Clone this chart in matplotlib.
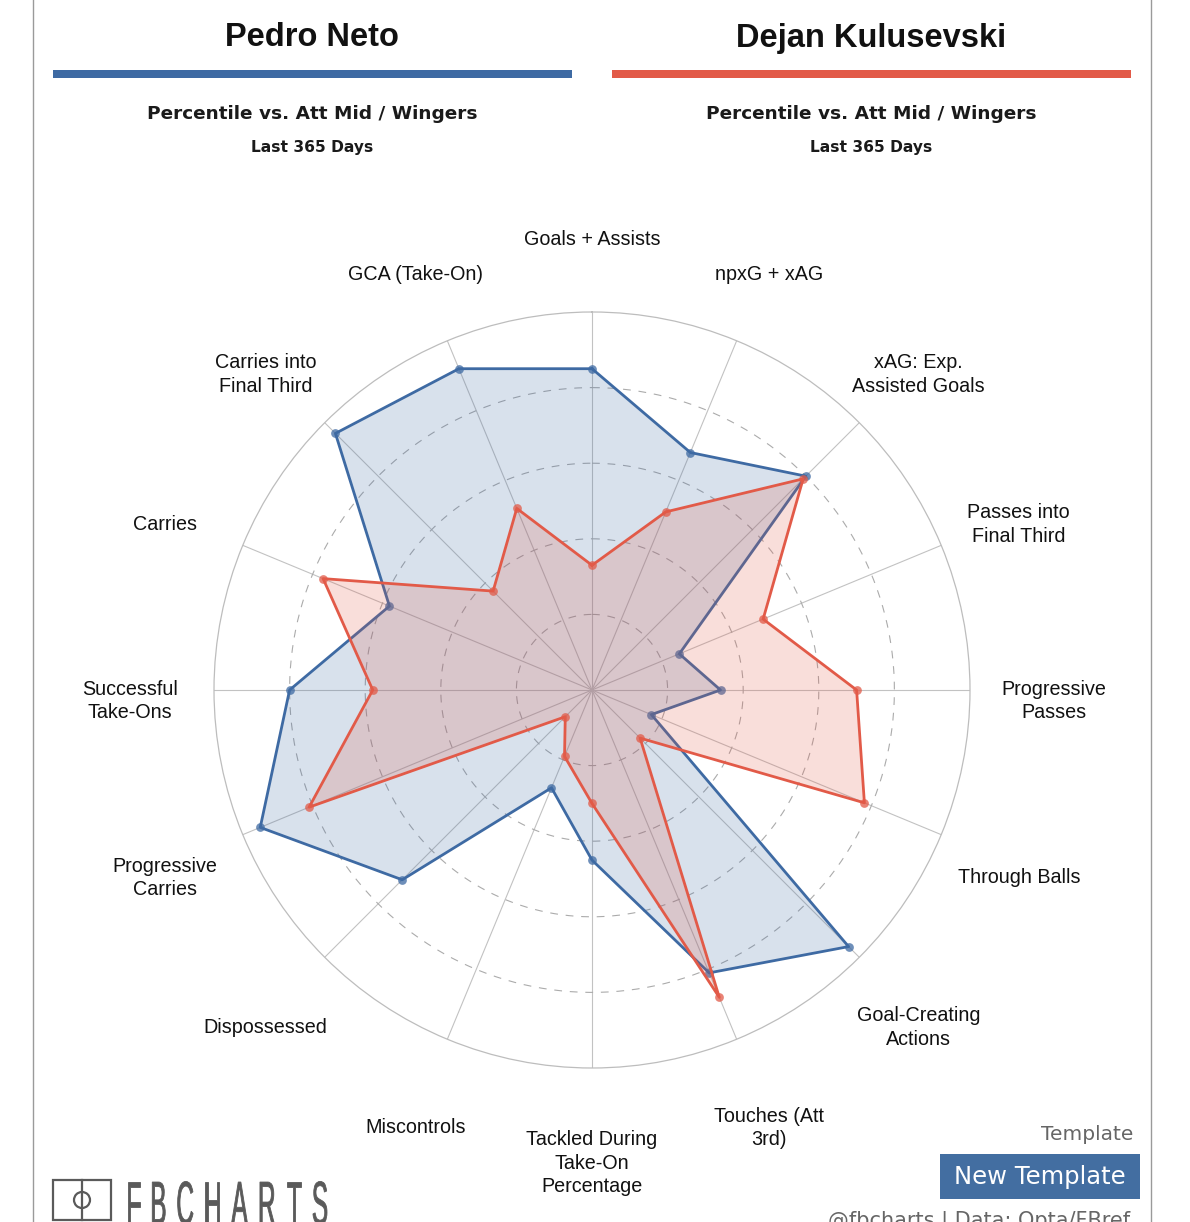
import numpy as np
import matplotlib
matplotlib.use('Agg')
import matplotlib.pyplot as plt
from matplotlib.patches import Rectangle, Circle, PathPatch
from matplotlib.textpath import TextPath
from matplotlib.font_manager import FontProperties
from matplotlib.transforms import Affine2D

# clockwise from the top
labels = ["Goals + Assists", "npxG + xAG", "xAG: Exp.\nAssisted Goals",
          "Passes into\nFinal Third", "Progressive\nPasses", "Through Balls",
          "Goal-Creating\nActions", "Touches (Att\n3rd)",
          "Tackled During\nTake-On\nPercentage", "Miscontrols", "Dispossessed",
          "Progressive\nCarries", "Successful\nTake-Ons", "Carries",
          "Carries into\nFinal Third", "GCA (Take-On)"]
neto = [85, 68, 80, 25, 34, 17, 96, 81, 45, 28, 71, 95, 80, 58, 96, 92]
kulu = [33, 51, 79, 49, 70, 78, 18, 88, 30, 19, 10, 81, 58, 77, 37, 52]
players = ["Pedro Neto", "Dejan Kulusevski"]
subtitle = "Percentile vs. Att Mid / Wingers"
period = "Last 365 Days"

BLUE = '#3e6aa3'
RED = '#e25a48'
W, H = 1190, 1222

fig = plt.figure(figsize=(W / 100, H / 100), dpi=100)
bg = fig.add_axes([0, 0, 1, 1])
bg.set_xlim(0, W)
bg.set_ylim(H, 0)
bg.axis('off')

# page borders
bg.plot([33, 33], [0, H], color='#9a9a9a', lw=1)
bg.plot([1151, 1151], [0, H], color='#9a9a9a', lw=1)

# header for each player
for name, col, xc in zip(players, [BLUE, RED], [312, 871]):
    bg.text(xc, 38, name, ha='center', va='center', fontsize=23.5, fontweight='bold',
            family='Liberation Sans', color='#111111')
    bg.add_patch(Rectangle((xc - 259, 70), 519, 8, color=col, lw=0))
    bg.text(xc, 114, subtitle, ha='center', va='center', fontsize=13.3, fontweight='bold',
            family='DejaVu Sans', color='#1a1a1a')
    bg.text(xc, 147.5, period, ha='center', va='center', fontsize=11.2, fontweight='bold',
            family='DejaVu Sans', color='#1a1a1a')

# radar
cx, cy, R = 592, 690, 378
ax = fig.add_axes([(cx - R) / W, 1 - (cy + R) / H, 2 * R / W, 2 * R / H], projection='polar')
ax.set_facecolor('none')
ax.set_theta_zero_location('N')
ax.set_theta_direction(-1)
ax.set_ylim(0, 100)
ax.set_xticks([])
ax.set_yticks([])
ax.spines['polar'].set_color('#bdbdbd')
ax.spines['polar'].set_linewidth(0.9)

n = len(labels)
theta = np.arange(n) * 2 * np.pi / n
for t in theta:
    ax.plot([t, t], [0, 100], color='#c2c2c2', lw=0.8, zorder=1)
ring = np.linspace(0, 2 * np.pi, 400)
for r in [20, 40, 60, 80]:
    ax.plot(ring, np.full_like(ring, r), color='#ababab', lw=0.8, ls=(0, (7, 7)), zorder=1)

for vals, col in [(neto, BLUE), (kulu, RED)]:
    tt = np.append(theta, theta[0])
    vv = np.append(vals, vals[0])
    ax.fill(tt, vv, color=col, alpha=0.2, lw=0, zorder=2)
    ax.plot(tt, vv, color=col, lw=2.0, zorder=2)
    ax.plot(theta, vals, 'o', color=col, ms=6.3, alpha=0.75, mec='none', zorder=2)

for t, lab in zip(theta, labels):
    ax.annotate(lab, xy=(t, 122.2), xytext=(0, -8), textcoords='offset points',
                ha='center', va='center', fontsize=14.2, family='Liberation Sans',
                color='#111111', linespacing=1.3, annotation_clip=False)

# footer
bg.text(1133, 1134, "Template", ha='right', va='center', fontsize=14.5,
        family='DejaVu Sans', color='#666666')
bg.add_patch(Rectangle((940, 1154), 200, 45, color='#436ea1', lw=0))
bg.text(1040, 1177, "New Template", ha='center', va='center', fontsize=17.5,
        family='DejaVu Sans', color='white')
bg.text(979, 1211, "@fbcharts | Data: Opta/FBref", ha='center', va='top', fontsize=15,
        family='DejaVu Sans', color='#666666')

# logo
bg.add_patch(Rectangle((53, 1180), 58, 40, fill=False, ec='#5a5a5a', lw=1.6))
bg.plot([82, 82], [1180, 1220], color='#5a5a5a', lw=1.6)
bg.add_patch(Circle((82, 1200), 8, fill=False, ec='#5a5a5a', lw=1.6))
fp = FontProperties(family='Liberation Sans')
sx = 0.4
paths = [TextPath((0, 0), ch, size=61, prop=fp) for ch in "FBCHARTS"]
widths = [p.get_extents().width * sx for p in paths]
gap = (199 - sum(widths)) / 7
x = 128
for p, w in zip(paths, widths):
    x0 = p.get_extents().x0 * sx
    tr = Affine2D().scale(sx, -1.0).translate(x - x0, 1224) + bg.transData
    bg.add_patch(PathPatch(p, transform=tr, facecolor='#5a5a5a', edgecolor='#5a5a5a', lw=0.6))
    x += w + gap

fig.savefig('out.png', dpi=100)
